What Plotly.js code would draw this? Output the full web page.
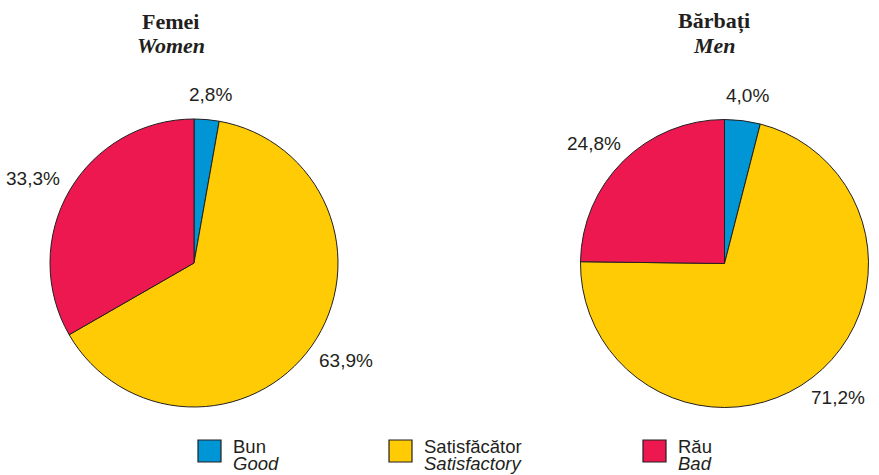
<!DOCTYPE html>
<html>
<head>
<meta charset="utf-8">
<script src="https://cdn.plot.ly/plotly-3.0.1.min.js"></script>
<style>html,body{margin:0;padding:0;background:#fff;}#chart{width:879px;height:475px;}</style>
</head>
<body>
<div id="chart"></div>
<script>
const categoriesRo = ["Bun", "Satisfăcător", "Rău"];
const categoriesEn = ["Good", "Satisfactory", "Bad"];
const womenValues = [2.8, 63.9, 33.3];
const menValues = [4.0, 71.2, 24.8];
const titlesRo = ["Femei", "Bărbați"];
const titlesEn = ["Women", "Men"];
const colors = ["#0096d6", "#ffcb05", "#ee1851"];

const W = 879, H = 475;
const px = x => x / W;
const py = y => 1 - y / H;
const fmt = v => v.toFixed(1).replace('.', ',') + '%';

const pies = [
  {values: womenValues, x0: 50, x1: 338, y0: 119, y1: 407},
  {values: menValues, x0: 580.5, x1: 868.5, y0: 119.5, y1: 407.5}
];

function pieTrace(p) {
  return {
    type: 'pie',
    labels: categoriesRo,
    values: p.values,
    textinfo: 'none',
    sort: false,
    direction: 'clockwise',
    rotation: 0,
    automargin: false,
    hoverinfo: 'none',
    marker: {colors: colors, line: {color: '#231f20', width: 1}},
    domain: {x: [px(p.x0), px(p.x1)], y: [py(p.y1), py(p.y0)]},
    showlegend: false
  };
}

const data = pies.map(pieTrace);

const annotations = [];
const shapes = [];

// percentage labels placed outside each slice along its mid-angle
pies.forEach(p => {
  const cx = (p.x0 + p.x1) / 2, cy = (p.y0 + p.y1) / 2, r = (p.x1 - p.x0) / 2;
  const total = p.values.reduce((a, b) => a + b, 0);
  let cum = 0;
  p.values.forEach(v => {
    const mid = (cum + v / 2) / total * 2 * Math.PI;
    cum += v;
    const s = Math.sin(mid), c = Math.cos(mid);
    const lx = cx + s * (r + 15 + 27);
    const ly = cy - c * (r + 15 + 10);
    annotations.push({xref: 'paper', yref: 'paper', x: px(lx), y: py(ly), xanchor: 'center', yanchor: 'middle',
      text: fmt(v), showarrow: false,
      font: {family: 'Liberation Sans, Arial, sans-serif', size: 19, color: '#231f20'}});
  });
});

const titleX = [170.5, 714];
titlesRo.forEach((t, i) => {
  annotations.push({xref: 'paper', yref: 'paper', x: px(titleX[i]), y: py(21), xanchor: 'center', yanchor: 'middle',
    text: '<b>' + t + '</b>', showarrow: false,
    font: {family: 'Liberation Serif, Times New Roman, serif', size: 22, color: '#231f20'}});
  annotations.push({xref: 'paper', yref: 'paper', x: px(titleX[i]), y: py(46), xanchor: 'center', yanchor: 'middle',
    text: '<b><i>' + titlesEn[i] + '</i></b>', showarrow: false,
    font: {family: 'Liberation Serif, Times New Roman, serif', size: 22, color: '#231f20'}});
});

const legX = [198, 389, 643];
categoriesRo.forEach((c, i) => {
  shapes.push({type: 'rect', xref: 'paper', yref: 'paper', x0: px(legX[i]), x1: px(legX[i] + 23), y0: py(462), y1: py(440),
    fillcolor: colors[i], line: {color: '#231f20', width: 1.2}});
  annotations.push({xref: 'paper', yref: 'paper', x: px(legX[i] + 33), y: py(446.5), xanchor: 'left', yanchor: 'middle',
    text: c, showarrow: false, font: {family: 'Liberation Sans, Arial, sans-serif', size: 18.5, color: '#231f20'}});
  annotations.push({xref: 'paper', yref: 'paper', x: px(legX[i] + 33), y: py(463.5), xanchor: 'left', yanchor: 'middle',
    text: '<i>' + categoriesEn[i] + '</i>', showarrow: false, font: {family: 'Liberation Sans, Arial, sans-serif', size: 18.5, color: '#231f20'}});
});

const layout = {
  width: W, height: H,
  margin: {l: 0, r: 0, t: 0, b: 0},
  paper_bgcolor: '#ffffff', plot_bgcolor: '#ffffff',
  showlegend: false,
  annotations: annotations,
  shapes: shapes
};

Plotly.newPlot('chart', data, layout, {displayModeBar: false, staticPlot: true});
</script>
</body>
</html>
